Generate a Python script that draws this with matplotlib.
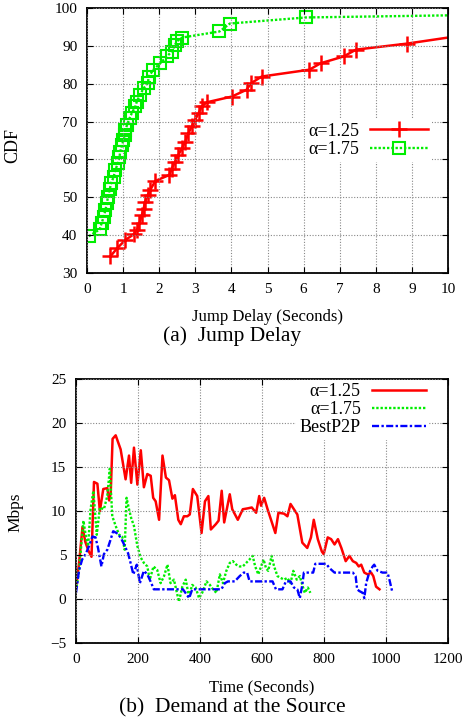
import matplotlib
matplotlib.use('Agg')
import matplotlib.pyplot as plt

plt.rcParams['font.family'] = ['Liberation Serif', 'DejaVu Serif']

# (a) jump delay CDF
delay_125 = [0.65, 0.83, 1.06, 1.29, 1.38, 1.45, 1.52, 1.57, 1.61, 1.68, 1.75, 1.89,
             2.28, 2.35, 2.44, 2.53, 2.63, 2.72, 2.81, 2.90, 2.99, 3.09, 3.18, 3.32,
             4.01, 4.42, 4.54, 4.84, 6.16, 6.47, 7.11, 7.45, 8.87, 11.0]
cdf_125 = [34.4, 36.5, 38.7, 40.2, 41.3, 43.1, 45.3, 47.0, 48.8, 50.6, 51.9, 54.3,
           55.9, 57.6, 59.4, 61.2, 62.9, 64.7, 66.9, 68.7, 70.4, 72.2, 74.0, 75.1,
           76.6, 78.4, 80.1, 81.9, 83.7, 85.4, 87.2, 89.0, 90.6, 93.6]
delay_175 = [0.05, 0.35, 0.41, 0.46, 0.51, 0.55, 0.58, 0.63, 0.67, 0.74, 0.78, 0.86,
             0.90, 0.92, 0.97, 1.01, 1.06, 1.06, 1.11, 1.18, 1.24, 1.34, 1.38, 1.47,
             1.57, 1.69, 1.71, 1.84, 2.03, 2.21, 2.35, 2.44, 2.49, 2.64, 3.67, 3.96,
             6.06, 11.0]
cdf_175 = [39.7, 41.5, 43.3, 44.8, 46.6, 48.4, 50.1, 52.1, 53.8, 55.4, 57.2, 59.0,
           60.7, 62.0, 63.8, 65.1, 66.5, 67.8, 69.1, 70.9, 72.2, 74.0, 75.3, 77.1,
           78.8, 80.3, 81.9, 83.7, 85.4, 87.2, 88.5, 90.3, 91.2, 92.2, 93.8, 95.9,
           97.5, 98.2]

# (b) demand at the source (Mbps)
t_125 = [2, 10, 21, 30, 40, 50, 58, 69, 77, 88, 101, 107, 112, 118, 128, 144, 160,
         171, 178, 187, 198, 209, 219, 230, 241, 249, 257, 268, 279, 290, 300, 311,
         319, 330, 338, 348, 359, 367, 377, 391, 405, 416, 427, 435, 451, 460, 470,
         478, 496, 504, 522, 538, 554, 567, 581, 591, 597, 607, 618, 643, 653, 671,
         682, 692, 703, 714, 730, 746, 758, 767, 780, 793, 799, 812, 823, 834, 845,
         856, 870, 882, 893, 904, 912, 920, 930, 941, 952, 959, 968, 979]
mbps_125 = [1.8, 4.1, 8.2, 6.5, 5.5, 4.8, 13.3, 13.1, 10.0, 12.5, 12.6, 11.2, 12.0,
            18.2, 18.6, 17.0, 13.6, 16.3, 13.2, 17.2, 13.0, 16.9, 12.7, 14.2, 14.0,
            11.5, 11.1, 9.0, 16.3, 13.8, 13.5, 11.4, 11.8, 9.0, 8.5, 9.4, 9.4, 9.6,
            12.5, 11.7, 7.5, 11.1, 11.7, 7.9, 8.5, 8.9, 12.3, 8.7, 11.9, 10.2, 9.0,
            10.2, 10.3, 10.4, 9.8, 11.7, 10.6, 11.5, 10.2, 7.5, 9.8, 9.7, 9.4, 10.8,
            10.2, 9.6, 6.4, 5.8, 7.0, 9.0, 6.8, 5.4, 5.1, 7.0, 6.8, 6.2, 6.8, 5.8, 4.3,
            4.9, 4.3, 4.1, 3.7, 3.9, 3.0, 2.8, 3.0, 2.6, 1.4, 1.1]
t_175 = [2, 10, 24, 31, 39, 47, 56, 67, 77, 90, 101, 109, 117, 128, 139, 149, 157,
         163, 171, 178, 187, 198, 209, 219, 230, 238, 250, 262, 273, 284, 295, 305,
         316, 332, 343, 354, 364, 375, 386, 397, 407, 421, 432, 442, 453, 464, 474,
         485, 496, 506, 517, 528, 538, 549, 560, 570, 578, 588, 597, 605, 613, 620,
         631, 639, 650, 660, 671, 682, 692, 701, 712, 722, 730, 738, 748, 756]
mbps_175 = [1.4, 3.3, 8.9, 7.3, 6.0, 10.2, 12.3, 7.3, 10.4, 10.2, 11.7, 14.8, 9.4,
            8.3, 7.3, 7.1, 5.6, 11.5, 10.2, 9.2, 8.3, 6.0, 4.7, 4.1, 3.7, 2.2, 3.7,
            3.3, 1.8, 2.6, 3.9, 1.8, 2.2, -0.3, 1.4, 2.2, 0.3, 1.6, 1.3, 0.1, 0.7,
            2.0, 1.6, 1.1, 0.7, 2.8, 1.8, 3.2, 4.1, 4.3, 3.9, 3.7, 3.7, 4.1, 4.5, 4.9,
            3.7, 2.8, 3.7, 4.5, 3.5, 3.2, 4.9, 3.7, 2.6, 2.4, 2.2, 2.4, 1.8, 3.2, 2.2,
            2.6, 1.6, 0.7, 1.3, 0.7]
t_best = [0, 10, 20, 31, 42, 53, 63, 71, 82, 90, 101, 112, 120, 131, 144, 155, 168,
          176, 185, 196, 206, 219, 230, 243, 251, 268, 327, 345, 365, 375, 469, 480,
          490, 512, 528, 541, 552, 560, 576, 634, 645, 666, 677, 692, 703, 714, 722,
          730, 735, 751, 765, 772, 807, 818, 834, 893, 902, 907, 914, 925, 930, 936,
          946, 957, 962, 973, 989, 1005, 1011, 1021]
mbps_best = [0.7, 3.3, 4.5, 5.1, 6.0, 7.1, 7.0, 5.8, 3.7, 5.1, 5.6, 6.8, 7.7, 7.5,
             7.0, 6.2, 5.2, 4.1, 2.8, 3.9, 1.8, 3.2, 2.8, 1.8, 1.1, 1.1, 1.1, 1.1,
             0.1, 1.1, 1.1, 1.8, 2.0, 2.0, 2.6, 3.0, 3.0, 2.0, 2.0, 2.0, 1.1, 1.1, 2.0,
             2.0, 1.3, 1.1, 0.1, 1.6, 3.0, 3.0, 3.0, 4.0, 4.0, 3.5, 3.0, 3.0, 2.6, 1.1,
             0.9, 0.7, 0.1, 1.8, 3.0, 3.7, 3.9, 3.2, 3.0, 3.0, 2.2, 0.7]

RED = '#ff0000'
GREEN = '#00ee00'
BLUE = '#0000ff'

fig = plt.figure(figsize=(4.68, 7.19), dpi=100)
fig.patch.set_facecolor('white')


def style_axes(ax):
    ax.grid(True, color='#888888', linestyle=(0, (1, 1.5)), linewidth=0.8)
    ax.set_axisbelow(False)
    ax.tick_params(direction='in', top=True, right=True, labelsize=11,
                   length=4, width=0.8, pad=7)
    for sp in ax.spines.values():
        sp.set_linewidth(1.3)


def right_align_legend(leg):
    for col in leg._legend_handle_box.get_children():
        col.align = 'right'


# top panel
ax1 = fig.add_axes([87 / 468, 1 - 273 / 719, 361 / 468, 265 / 719])
ax1.plot(delay_125, cdf_125, color=RED, lw=1.8, marker='+', ms=11, mew=1.8,
         label='α=1.25')
ax1.plot(delay_175, cdf_175, color=GREEN, lw=1.7, linestyle=(0, (1, 0.8)),
         marker='s', ms=8, mfc='none', mew=1.5, label='α=1.75')
ax1.set_xlim(0, 10)
ax1.set_ylim(30, 100)
ax1.set_xticks(range(0, 11))
ax1.set_yticks(range(30, 101, 10))
style_axes(ax1)
ax1.set_xlabel('Jump Delay (Seconds)', fontsize=12)
ax1.xaxis.set_label_coords(0.5, -0.135)
ax1.set_ylabel('CDF', fontsize=13)
ax1.yaxis.set_label_coords(-0.183, 0.483)
leg1 = ax1.legend(loc='center right', bbox_to_anchor=(0.955, 0.5), fontsize=13,
                  markerfirst=False, frameon=True, framealpha=1, edgecolor='none',
                  fancybox=False, borderpad=0.2, borderaxespad=0,
                  handlelength=3.2, handletextpad=0.6, labelspacing=0.1)
right_align_legend(leg1)

fig.text(232 / 468, 1 - 336 / 719, '(a)  Jump Delay', fontsize=15.5,
         ha='center', va='center')

# bottom panel
ax2 = fig.add_axes([76 / 468, 1 - 643 / 719, 372 / 468, 264 / 719])
ax2.plot(t_125, mbps_125, color=RED, lw=1.8, label='α=1.25')
ax2.plot(t_175, mbps_175, color=GREEN, lw=1.7, linestyle=(0, (1, 0.8)),
         label='α=1.75')
ax2.plot(t_best, mbps_best, color=BLUE, lw=1.7, linestyle=(0, (3, 1, 1, 1)),
         label='BestP2P')
ax2.set_xlim(0, 1200)
ax2.set_ylim(-5, 25)
ax2.set_xticks(range(0, 1201, 200))
ax2.set_yticks(range(-5, 26, 5))
style_axes(ax2)
ax2.set_xlabel('Time (Seconds)', fontsize=12)
ax2.xaxis.set_label_coords(0.5, -0.138)
ax2.set_ylabel('Mbps', fontsize=12.5)
ax2.yaxis.set_label_coords(-0.142, 0.496)
leg2 = ax2.legend(loc='center right', bbox_to_anchor=(0.95, 0.883), fontsize=13,
                  markerfirst=False, frameon=True, framealpha=1, edgecolor='none',
                  fancybox=False, borderpad=0.2, borderaxespad=0,
                  handlelength=3.0, handletextpad=0.6, labelspacing=0.05)
right_align_legend(leg2)

fig.text(232 / 468, 1 - 708 / 719, '(b)  Demand at the Source', fontsize=15.5,
         ha='center', va='center')

fig.savefig('out.png', dpi=100, facecolor='white')
